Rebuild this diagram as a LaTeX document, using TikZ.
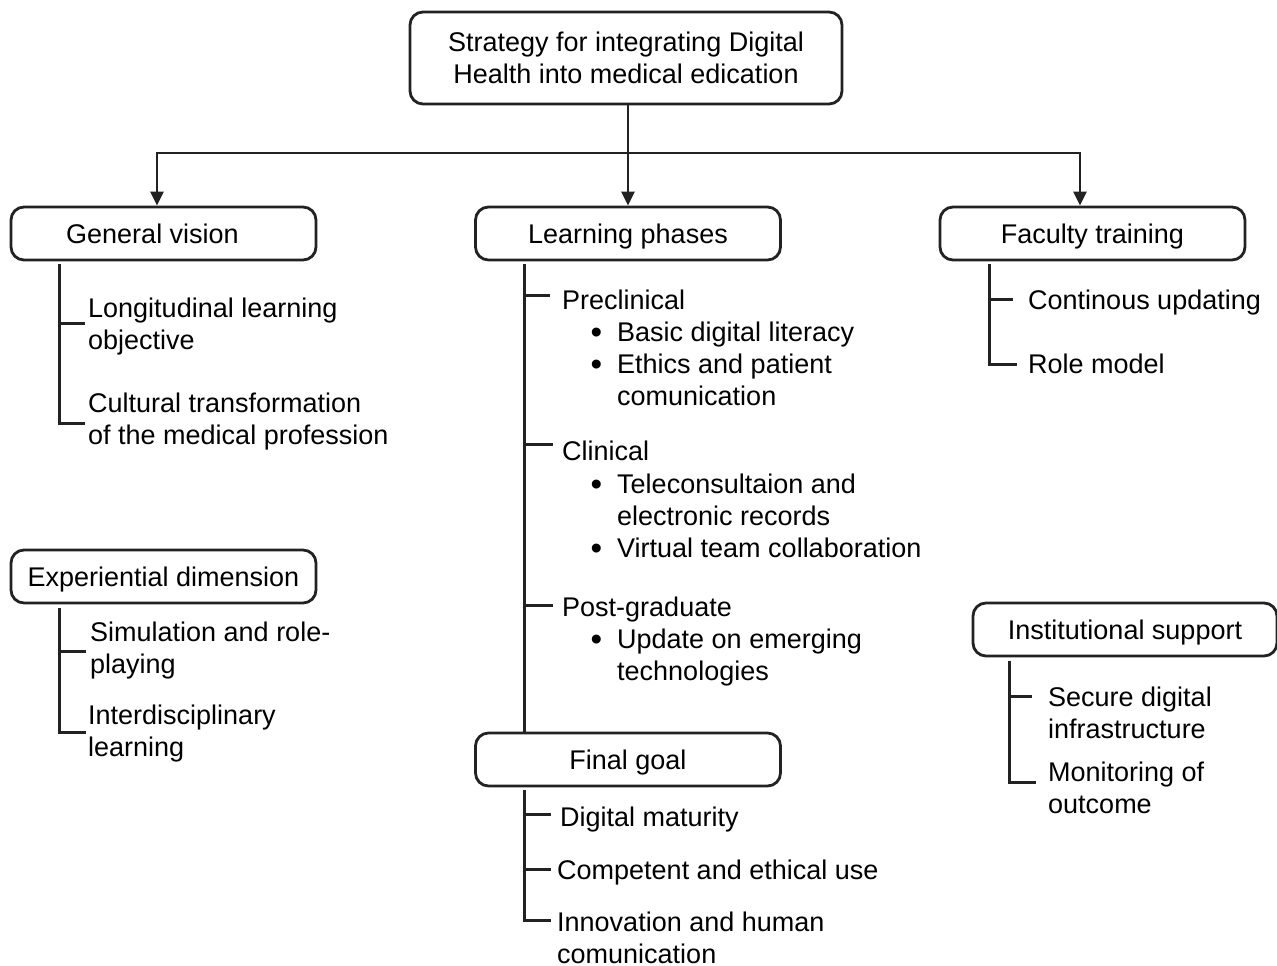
\documentclass[tikz,border=0pt]{standalone}
\usepackage{fontspec}
\setmainfont{Liberation Sans}
\usetikzlibrary{arrows.meta}
\definecolor{ink}{RGB}{34,34,34}
% left-aligned block whose baseline is that of its first line
\newcommand{\lines}[1]{\begin{tabular}[t]{@{}l@{}}#1\end{tabular}}
% bullet hung to the left of the item text
\newcommand{\bul}{\llap{\raisebox{-2pt}{\fontsize{33}{33}\selectfont\textbullet}\hspace{15pt}}}
\begin{document}
\begin{tikzpicture}[x=1pt,y=-1pt,
  font=\fontsize{27}{32.5}\selectfont,
  box/.style={draw=ink, line width=2.8pt, rounded corners=13pt,
    minimum width=305pt, minimum height=53pt, inner sep=0pt},
  onerow/.style={text height=20pt, text depth=0.6pt},
  item/.style={anchor=base west, inner sep=0pt},
  wire/.style={draw=ink, line width=2.8pt},
  arr/.style={wire, -{Triangle[length=14pt,width=13pt]}}]
\useasboundingbox (0,0) rectangle (1277,966);

% title and the three branch arrows
\node[box, minimum width=432pt, minimum height=92pt, align=center] (title) at (626,58)
  {Strategy for integrating Digital\\Health into medical edication};

\node[box, onerow] (gv) at (163.5,233.5) {General vision\rule{22pt}{0pt}};
\node[box, onerow] (lp) at (628,233.5) {Learning phases};
\node[box, onerow] (ft) at (1092.5,233.5) {Faculty training};
\node[box, onerow] (ed) at (163.5,576.5) {Experiential dimension};
\node[box, onerow] (fg) at (628,759.5) {Final goal};
\node[box, onerow, minimum width=304pt] (is) at (1125,629.5) {Institutional support};

\coordinate (hub) at (title.south |- 0,153);
\draw[wire] (title.south -| lp.north) -- (hub -| lp.north);
\draw[wire, line cap=rect] ([xshift=-6.5pt]gv.north |- hub) -- ([xshift=-12.5pt]ft.north |- hub);
\draw[arr] ([xshift=-6.5pt]gv.north |- hub) -- ([xshift=-6.5pt]gv.north);
\draw[arr] (hub -| lp.north) -- (lp.north);
\draw[arr] ([xshift=-12.5pt]ft.north |- hub) -- ([xshift=-12.5pt]ft.north);

% General vision
\node[item] (lo) at (88,317) {\lines{Longitudinal learning\\objective}};
\node[item] (ct) at (88,412) {\lines{Cultural transformation\\of the medical profession}};
\coordinate (gvs) at ([xshift=50pt,yshift=-3pt]gv.south west);
\draw[wire] (gvs) |- ([xshift=-3pt,yshift=-2pt]ct.west);
\draw[wire] ([xshift=-3pt,yshift=3.5pt]lo.west) coordinate (t) -- (t -| gvs);

% Learning phases
\node[item] (pre) at (562,309) {Preclinical};
\node[item] (b1) at (617,341) {\bul Basic digital literacy};
\node[item] (b2) at (617,373) {\lines{\bul Ethics and patient\\comunication}};
\node[item] (cli) at (562,460) {Clinical};
\node[item] (b3) at (617,493) {\lines{\bul Teleconsultaion and\\electronic records}};
\node[item] (b4) at (617,557) {\bul Virtual team collaboration};
\node[item] (post) at (562,616) {Post-graduate};
\node[item] (b5) at (617,648) {\lines{\bul Update on emerging\\technologies}};
\coordinate (lps) at ([xshift=50pt,yshift=-3pt]lp.south west);
\draw[wire] (lps) -- ([xshift=50pt]fg.north west);
\draw[wire] ([xshift=-12pt,yshift=3.5pt]pre.west) coordinate (t) -- (t -| lps);
\draw[wire] ([xshift=-9pt,yshift=5.5pt]cli.west) coordinate (t) -- (t -| lps);
\draw[wire] ([xshift=-9pt,yshift=3.5pt]post.west) coordinate (t) -- (t -| lps);

% Faculty training
\node[item] (cu) at (1028,309) {Continous updating};
\node[item] (rm) at (1028,373) {Role model};
\coordinate (fts) at ([xshift=51pt,yshift=-3pt]ft.south west);
\draw[wire] (fts) |- ([xshift=-11pt,yshift=-1.5pt]rm.west);
\draw[wire] ([xshift=-15pt,yshift=2.5pt]cu.west) coordinate (t) -- (t -| fts);

% Experiential dimension
\node[item] (sim) at (90,641) {\lines{Simulation and role-\\playing}};
\node[item] (inter) at (88,724) {\lines{Interdisciplinary\\learning}};
\coordinate (eds) at ([xshift=50pt,yshift=-4pt]ed.south west);
\draw[wire] (eds) |- ([xshift=-2pt,yshift=1.5pt]inter.west);
\draw[wire] ([xshift=-4pt,yshift=-1pt]sim.west) coordinate (t) -- (t -| eds);

% Final goal
\node[item] (dm) at (560,826) {Digital maturity};
\node[item] (ce) at (557,879) {Competent and ethical use};
\node[item] (inn) at (557,931) {Innovation and human};
\node[item] (inn2) at (557,963) {comunication};
\coordinate (fgs) at ([xshift=50pt,yshift=-3pt]fg.south west);
\draw[wire] (fgs) |- ([xshift=-6pt,yshift=1pt]inn.west);
\draw[wire] ([xshift=-9pt,yshift=4.5pt]dm.west) coordinate (t) -- (t -| fgs);
\draw[wire] ([xshift=-6pt,yshift=2.5pt]ce.west) coordinate (t) -- (t -| fgs);

% Institutional support
\node[item] (sd) at (1048,706) {\lines{Secure digital\\infrastructure}};
\node[item] (mo) at (1048,781) {\lines{Monitoring of\\outcome}};
\coordinate (iss) at ([xshift=38pt,yshift=-4pt]is.south west);
\draw[wire] (iss) |- ([xshift=-12pt,yshift=8pt]mo.west);
\draw[wire] ([xshift=-16pt,yshift=19pt]sd.west) coordinate (t) -- (t -| iss);
\end{tikzpicture}
\end{document}
